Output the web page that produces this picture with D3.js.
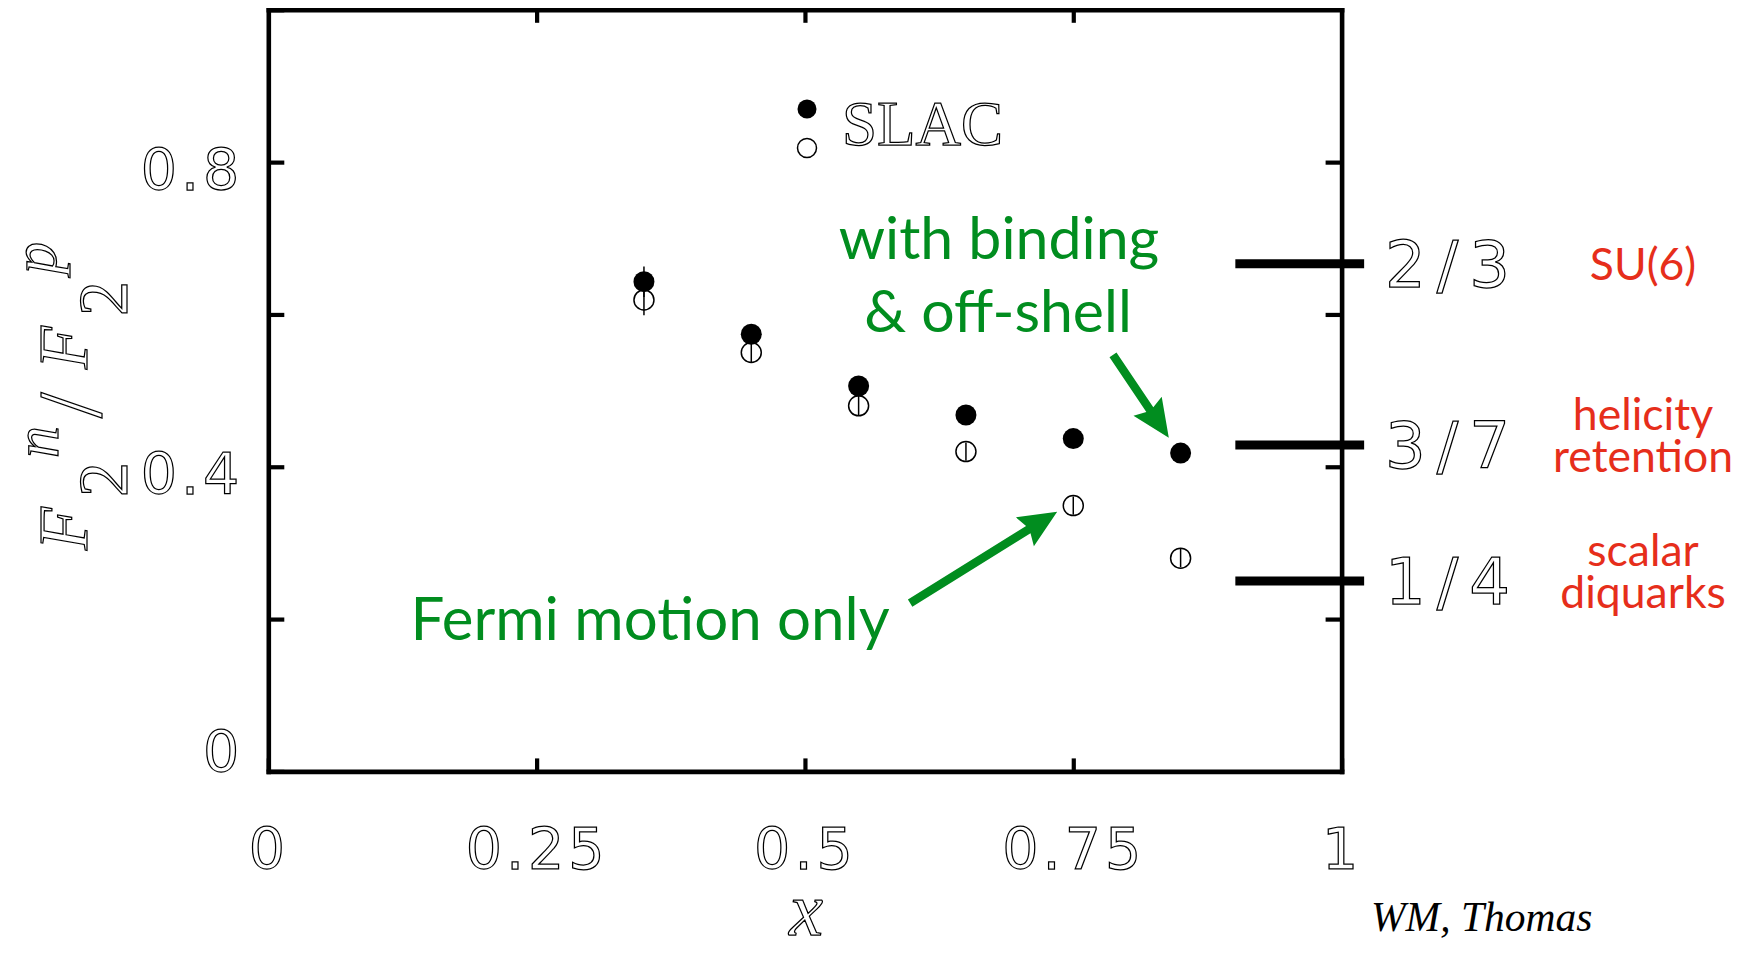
<!DOCTYPE html>
<html>
<head>
<meta charset="utf-8">
<script src="https://cdn.jsdelivr.net/npm/d3@7"></script>
<style>
  html, body { margin: 0; padding: 0; background: #fff; }
  svg { display: block; }
</style>
</head>
<body>
<svg id="chart" width="1753" height="953"></svg>
<script>
// ---------------- data ----------------
const xTicks = [0, 0.25, 0.5, 0.75, 1];
const xTickLabels = ["0", "0.25", "0.5", "0.75", "1"];
const yTicks = [0, 0.2, 0.4, 0.6, 0.8, 1];
const yTickLabels = ["0", "", "0.4", "", "0.8", ""];

const xValues = [0.35, 0.45, 0.55, 0.65, 0.75, 0.85];
// with binding & off-shell (filled)
const withBinding = [0.643, 0.574, 0.506, 0.468, 0.437, 0.418];
const withBindingErr = [0.02, 0.012, 0.012, 0.01, 0.01, 0.01];
// Fermi motion only (open)
const fermiOnly = [0.619, 0.550, 0.480, 0.420, 0.349, 0.280];
const fermiOnlyErr = [0.02, 0.013, 0.013, 0.012, 0.012, 0.012];

// limiting values at x -> 1
const limitValues = [2 / 3, 3 / 7, 1 / 4];
const limitLabels = ["2/3", "3/7", "1/4"];
const limitNames = [["SU(6)"], ["helicity", "retention"], ["scalar", "diquarks"]];

const legendLabel = "SLAC";
const greenTop = ["with binding", "& off-shell"];
const greenBottom = "Fermi motion only";
const credit = "WM, Thomas";

// annotation arrows in data units [from, to]
const arrows = [
  [[0.787, 0.547], [0.839, 0.438]],
  [[0.598, 0.221], [0.735, 0.341]]
];

// ---------------- drawing ----------------
const svg = d3.select("#chart");
const x = d3.scaleLinear().domain([0, 1]).range([268.3, 1341.6]);
const y = d3.scaleLinear().domain([0, 1]).range([771.4, 9.8]);

const GREEN = "#018D1F";
const RED = "#E62E1B";
const hollow = sel => sel.attr("fill", "#fff").attr("stroke", "#000").attr("stroke-width", 1.25);

function styleAxis(g) {
  g.select(".domain").attr("stroke", "#000").attr("stroke-width", 4.6).attr("stroke-linecap", "square");
  g.selectAll(".tick line").attr("stroke", "#000").attr("stroke-width", 4.2);
}

// bottom axis
const gx = svg.append("g").attr("transform", `translate(0,${y(0)})`)
  .call(d3.axisBottom(x).tickValues(xTicks).tickFormat((d, i) => xTickLabels[i])
    .tickSizeInner(-13).tickSizeOuter(0));
styleAxis(gx);
gx.selectAll(".tick text").attr("y", 98).attr("dy", null)
  .attr("font-family", "'DejaVu Sans', sans-serif").attr("font-size", 57)
  .attr("letter-spacing", 4).call(hollow);

// top axis
const gt = svg.append("g").attr("transform", `translate(0,${y(1)})`)
  .call(d3.axisTop(x).tickValues([0.25, 0.5, 0.75]).tickFormat("")
    .tickSizeInner(-13).tickSizeOuter(0));
styleAxis(gt);

// left axis
const gy = svg.append("g").attr("transform", `translate(${x(0)},0)`)
  .call(d3.axisLeft(y).tickValues(yTicks).tickFormat((d, i) => yTickLabels[i])
    .tickSizeInner(-16).tickSizeOuter(0));
styleAxis(gy);
gy.selectAll(".tick text").attr("x", -25).attr("dy", null)
  .attr("y", d => d === 0 ? 0 : 27)
  .attr("text-anchor", "end")
  .attr("font-family", "'DejaVu Sans', sans-serif").attr("font-size", 57)
  .attr("letter-spacing", 4).call(hollow);

// right axis
const gr = svg.append("g").attr("transform", `translate(${x(1)},0)`)
  .call(d3.axisRight(y).tickValues([0.2, 0.4, 0.6, 0.8]).tickFormat("")
    .tickSizeInner(-16).tickSizeOuter(0));
styleAxis(gr);

// limit marks
const lim = svg.append("g");
lim.selectAll("line").data(limitValues).join("line")
  .attr("x1", x(0.901)).attr("x2", x(1.021))
  .attr("y1", d => y(d)).attr("y2", d => y(d))
  .attr("stroke", "#000").attr("stroke-width", 9);
lim.selectAll("text.frac").data(limitValues).join("text").attr("class", "frac")
  .attr("x", 1385).attr("y", d => y(d) + 23)
  .attr("font-family", "'DejaVu Sans', sans-serif").attr("font-size", 64)
  .attr("letter-spacing", 11)
  .text((d, i) => limitLabels[i]).call(hollow);
limitValues.forEach((v, i) => {
  const lines = limitNames[i];
  lines.forEach((s, j) => {
    const base = lines.length === 1 ? y(v) + 16 : y(v) - 15 + j * 42;
    lim.append("text").attr("text-anchor", "middle")
      .attr("font-family", "Lato, 'Open Sans', sans-serif").attr("font-size", 44.5)
      .attr("fill", RED).attr("x", 1643).attr("y", base).text(s);
  });
});

// data points
const pts = svg.append("g");
const openData = xValues.map((xv, i) => ({ x: xv, v: fermiOnly[i], e: fermiOnlyErr[i] }));
const fillData = xValues.map((xv, i) => ({ x: xv, v: withBinding[i], e: withBindingErr[i] }));
pts.selectAll("circle.open").data(openData).join("circle").attr("class", "open")
  .attr("cx", d => x(d.x)).attr("cy", d => y(d.v)).attr("r", 10)
  .attr("fill", "#fff").attr("stroke", "#000").attr("stroke-width", 1.5);
pts.selectAll("line.err").data(openData.concat(fillData)).join("line").attr("class", "err")
  .attr("x1", d => x(d.x)).attr("x2", d => x(d.x))
  .attr("y1", d => y(d.v - d.e)).attr("y2", d => y(d.v + d.e))
  .attr("stroke", "#000").attr("stroke-width", 1.5);
pts.selectAll("circle.fill").data(fillData).join("circle").attr("class", "fill")
  .attr("cx", d => x(d.x)).attr("cy", d => y(d.v)).attr("r", 10.5)
  .attr("fill", "#000");

// legend
const leg = svg.append("g");
leg.append("circle").attr("cx", 807).attr("cy", 109).attr("r", 9.5).attr("fill", "#000");
leg.append("circle").attr("cx", 807).attr("cy", 148).attr("r", 9.5)
  .attr("fill", "#fff").attr("stroke", "#000").attr("stroke-width", 1.5);
leg.append("text").attr("x", 842).attr("y", 145)
  .attr("font-family", "'Liberation Serif', serif").attr("font-size", 63)
  .text(legendLabel).call(hollow);

// green annotations
const ann = svg.append("g").attr("font-family", "Lato, 'Open Sans', sans-serif")
  .attr("fill", GREEN).attr("text-anchor", "middle");
ann.append("text").attr("x", 999).attr("y", 259).attr("font-size", 59).text(greenTop[0]);
ann.append("text").attr("x", 998).attr("y", 332).attr("font-size", 59).text(greenTop[1]);
ann.append("text").attr("x", 650).attr("y", 640).attr("font-size", 60).text(greenBottom);

function arrowPath(x1, y1, x2, y2) {
  const dx = x2 - x1, dy = y2 - y1, len = Math.hypot(dx, dy);
  const ux = dx / len, uy = dy / len, px = -uy, py = ux;
  const w = 4.2, L = 34, hw = 17, notch = 4;
  const bx = x2 - ux * L, by = y2 - uy * L;
  const cx = bx - ux * notch, cy = by - uy * notch;
  const p = [
    [x1 + px * w, y1 + py * w],
    [bx + px * w, by + py * w],
    [cx + px * hw, cy + py * hw],
    [x2, y2],
    [cx - px * hw, cy - py * hw],
    [bx - px * w, by - py * w],
    [x1 - px * w, y1 - py * w]
  ];
  return "M" + p.map(q => q.join(",")).join("L") + "Z";
}
svg.append("g").selectAll("path").data(arrows).join("path")
  .attr("d", d => arrowPath(x(d[0][0]), y(d[0][1]), x(d[1][0]), y(d[1][1])))
  .attr("fill", GREEN);

// axis titles
svg.append("text").attr("x", 806).attr("y", 935).attr("text-anchor", "middle")
  .attr("font-family", "'Liberation Serif', serif").attr("font-style", "italic")
  .attr("font-size", 76).text("x").call(hollow);

const yt = svg.append("text").attr("transform", "translate(87,550) rotate(-90)")
  .attr("font-family", "'Liberation Serif', serif").attr("font-style", "italic")
  .attr("font-size", 70).call(hollow);
yt.append("tspan").attr("x", 0).attr("y", 0).text("F");
yt.append("tspan").attr("x", 53).attr("y", 40).attr("font-style", "normal").text("2");
yt.append("tspan").attr("x", 92).attr("y", -29).attr("font-size", 64).text("n");
yt.append("tspan").attr("x", 132).attr("y", 14).attr("font-size", 92).attr("font-style", "normal").text("/");
yt.append("tspan").attr("x", 181).attr("y", 0).attr("font-size", 70).text("F");
yt.append("tspan").attr("x", 234).attr("y", 40).attr("font-style", "normal").text("2");
yt.append("tspan").attr("x", 276).attr("y", -31).attr("font-size", 64).text("p");

// credit
svg.append("text").attr("x", 1371).attr("y", 931)
  .attr("font-family", "'Liberation Serif', serif").attr("font-style", "italic")
  .attr("font-size", 41.5).attr("fill", "#000").text(credit);
</script>
</body>
</html>
